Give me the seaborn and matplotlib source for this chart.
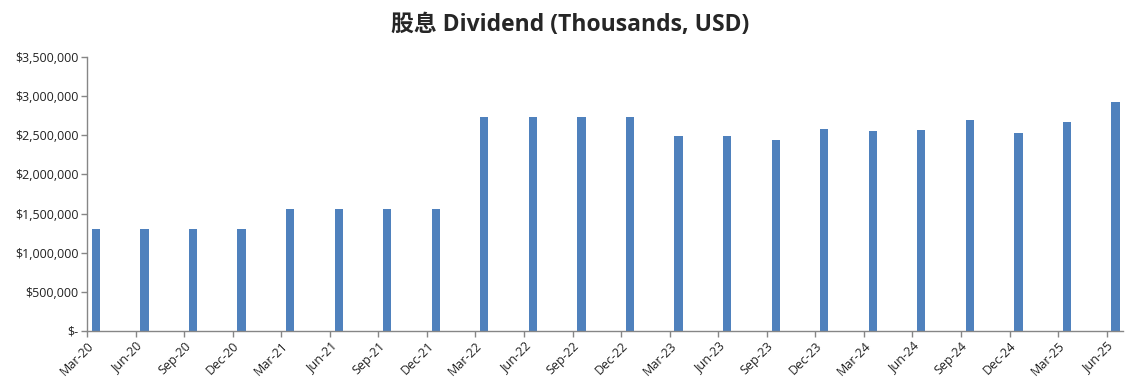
import numpy as np
import pandas as pd
import seaborn as sns
import matplotlib.pyplot as plt
from matplotlib.ticker import FuncFormatter

# datas trimestrais e dividendos (milhares de USD)
trimestres = ['Mar-20', 'Jun-20', 'Sep-20', 'Dec-20',
              'Mar-21', 'Jun-21', 'Sep-21', 'Dec-21',
              'Mar-22', 'Jun-22', 'Sep-22', 'Dec-22',
              'Mar-23', 'Jun-23', 'Sep-23', 'Dec-23',
              'Mar-24', 'Jun-24', 'Sep-24', 'Dec-24',
              'Mar-25', 'Jun-25']
dividendos = [1303000, 1303000, 1303000, 1303000,
              1558000, 1558000, 1558000, 1558000,
              2735000, 2735000, 2735000, 2735000,
              2492000, 2492000, 2441000, 2582000,
              2556000, 2569000, 2697000, 2531000,
              2671000, 2927000]
y_ticks = [0, 500000, 1000000, 1500000, 2000000, 2500000, 3000000, 3500000]

# eixo de datas em meses (como no Excel): cada trimestre = 3 meses
meses = [3 * i + 0.55 for i in range(len(trimestres))]
df = pd.DataFrame({'mes': meses, 'dividendo': dividendos})

sns.set_style('white')
plt.rcParams['font.family'] = ['Open Sans', 'Noto Sans CJK SC', 'DejaVu Sans']

fig = plt.figure(figsize=(11.33, 3.83), dpi=100)
ax = fig.add_axes([0.0768, 0.1358, 0.9142, 0.7152])

sns.barplot(data=df, x='mes', y='dividendo', native_scale=True, width=0.17,
            color='#4F81BD', saturation=1, errorbar=None, linewidth=0, ax=ax)

ax.set_xlim(0, 64)
ax.set_ylim(0, 3500000)
ax.set_xticks([3 * i for i in range(len(trimestres))])
ax.set_xticklabels(trimestres, rotation=45, ha='right', rotation_mode='anchor',
                   fontsize=9, color='#222222')
ax.set_yticks(y_ticks)
ax.yaxis.set_major_formatter(FuncFormatter(lambda v, p: '$-' if v == 0 else f'${v:,.0f}'))
ax.tick_params(axis='y', labelsize=9, labelcolor='#222222')
ax.set_xlabel('')
ax.set_ylabel('')

for lado in ['top', 'right']:
    ax.spines[lado].set_visible(False)
for lado in ['left', 'bottom']:
    ax.spines[lado].set_color('#868686')
    ax.spines[lado].set_linewidth(1)
ax.tick_params(axis='both', which='major', direction='out', length=4, width=1,
               color='#868686', left=True, bottom=True, pad=2)

fig.text(0.503, 0.935, '股息 Dividend (Thousands, USD)', ha='center', va='center',
         fontsize=16.5, fontweight='bold', family=['Open Sans', 'Noto Sans CJK SC'])

fig.savefig('out.png', dpi=100)
